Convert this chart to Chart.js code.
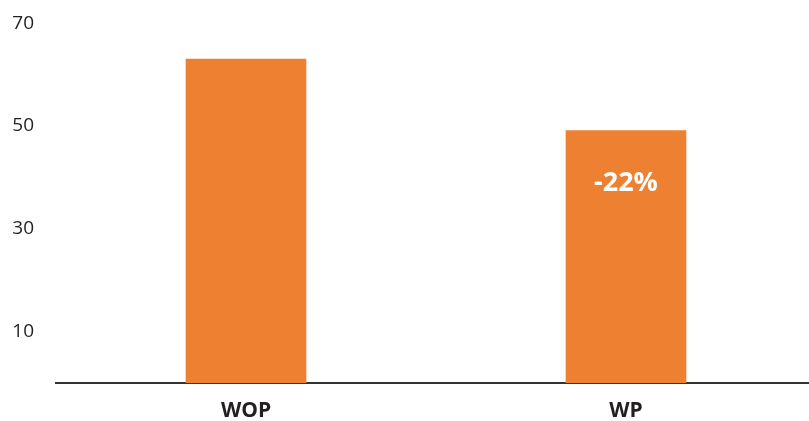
<!DOCTYPE html>
<html>
<head>
<meta charset="utf-8">
<style>
  html, body { margin: 0; padding: 0; background: #fff; overflow: hidden; }
  canvas { display: block; }
</style>
<script src="https://cdn.jsdelivr.net/npm/chart.js@4/dist/chart.umd.min.js"></script>
</head>
<body>
<canvas id="chart" width="816" height="421"></canvas>
<script>
const categories = ['WOP', 'WP'];
const values = [63.0, 49.1];
const yTicks = [10, 30, 50, 70];

const barColor = '#ee8032';
const textColor = '#231f20';

// change of each bar against the first one, printed inside the bar
const changeLabel = {
    id: 'changeLabel',
    afterDatasetsDraw(chart) {
        const ctx = chart.ctx;
        const meta = chart.getDatasetMeta(0);
        ctx.save();
        ctx.fillStyle = '#ffffff';
        ctx.font = 'bold 27px "Open Sans"';
        ctx.textAlign = 'center';
        ctx.textBaseline = 'middle';
        meta.data.forEach((bar, i) => {
            if (i === 0) return;
            const pct = Math.round((values[i] / values[0] - 1) * 100);
            ctx.fillText(pct + '%', bar.x, bar.y + 53);
        });
        ctx.restore();
    }
};

const ctx = document.getElementById('chart').getContext('2d');
new Chart(ctx, {
    type: 'bar',
    data: {
        labels: categories,
        datasets: [{
            data: values,
            backgroundColor: barColor,
            borderWidth: 0,
            barThickness: 120,
        }],
    },
    options: {
        responsive: false,
        animation: false,
        layout: { padding: { left: 12, top: 0, right: 0, bottom: 0 } },
        plugins: {
            legend: { display: false },
            tooltip: { enabled: false },
        },
        scales: {
            x: {
                grid: { display: false, drawTicks: false },
                border: { display: true, color: '#333333', width: 2 },
                afterFit: (scale) => { scale.height = 38; },
                ticks: {
                    color: textColor,
                    padding: 15,
                    font: { family: 'Open Sans', size: 21, weight: 'bold' },
                },
            },
            y: {
                min: 0,
                max: 74.5,
                grid: { display: false, drawTicks: false },
                border: { display: false },
                afterBuildTicks: (scale) => {
                    scale.ticks = yTicks.map(v => ({ value: v }));
                },
                afterFit: (scale) => {
                    scale.width = 44;
                    scale.paddingTop = 0;
                    scale.paddingBottom = 0;
                },
                ticks: {
                    color: textColor,
                    padding: 22,
                    font: { family: 'Open Sans', size: 19 },
                },
            },
        },
    },
    plugins: [changeLabel],
});
</script>
</body>
</html>
